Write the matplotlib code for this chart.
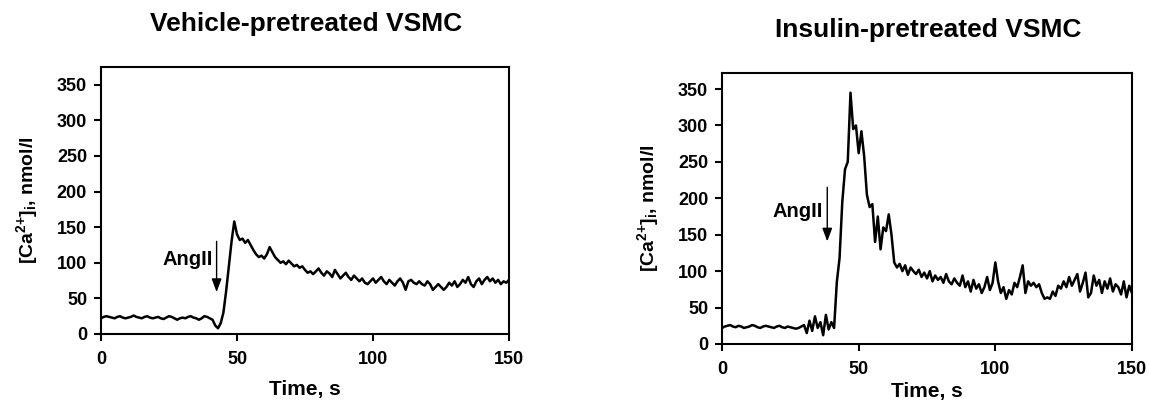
import matplotlib
matplotlib.use("Agg")
import matplotlib.pyplot as plt
import numpy as np

plt.rcParams['font.family'] = ['Liberation Sans', 'DejaVu Sans']
plt.rcParams['font.weight'] = 'bold'
plt.rcParams['mathtext.fontset'] = 'custom'
plt.rcParams['mathtext.rm'] = 'Liberation Sans:bold'
plt.rcParams['mathtext.bf'] = 'Liberation Sans:bold'
plt.rcParams['mathtext.it'] = 'Liberation Sans:bold'

# time axis (s), one sample per second
time_s = np.arange(0, 151)

vehicle = [
    22, 24, 25, 24, 23, 22, 24, 25, 23, 22, 23, 24, 26, 24, 23, 22, 24, 25, 23, 22,
    23, 24, 22, 21, 23, 25, 24, 22, 20, 22, 23, 22, 24, 25, 23, 22, 20, 22, 25, 24,
    22, 20, 12, 8, 15, 30, 60, 95, 130, 158, 140, 132, 134, 128, 132, 125, 118, 112, 108, 110,
    106, 112, 122, 115, 108, 104, 100, 102, 98, 103, 99, 95, 97, 93, 95, 90, 86, 88, 84, 88,
    92, 86, 82, 88, 85, 80, 90, 84, 78, 82, 86, 80, 76, 82, 78, 74, 78, 72, 70, 74,
    78, 72, 76, 80, 74, 70, 76, 72, 68, 74, 78, 72, 62, 74, 76, 72, 70, 74, 70, 68,
    74, 70, 62, 66, 70, 66, 62, 66, 72, 68, 74, 66, 70, 76, 72, 80, 70, 66, 74, 78,
    70, 76, 80, 74, 78, 72, 76, 70, 74, 72, 76,
]

insulin = [
    22, 24, 25, 26, 24, 23, 25, 24, 22, 23, 24, 26, 25, 23, 22, 24, 25, 24, 23, 22,
    24, 25, 23, 22, 24, 23, 22, 21, 22, 24, 26, 15, 32, 18, 38, 22, 30, 12, 40, 20,
    30, 22, 85, 118, 195, 240, 250, 345, 295, 300, 262, 292, 258, 205, 188, 192, 140, 175, 130, 160,
    155, 178, 150, 112, 105, 110, 100, 108, 95, 105, 100, 96, 102, 92, 98, 90, 100, 86, 94, 88,
    92, 84, 96, 86, 82, 90, 84, 80, 94, 78, 86, 72, 88, 76, 82, 70, 78, 92, 74, 84,
    112, 86, 70, 78, 62, 74, 68, 84, 78, 92, 108, 70, 86, 80, 84, 78, 82, 70, 62, 64,
    62, 72, 66, 80, 76, 86, 78, 92, 80, 88, 96, 72, 84, 98, 64, 70, 94, 80, 88, 70,
    86, 76, 90, 72, 82, 78, 68, 86, 64, 80, 70,
]

titles = ["Vehicle-pretreated VSMC", "Insulin-pretreated VSMC"]
arrow_time = [42.5, 38.5]
arrow_top = [134, 219]
arrow_tip = [55, 137]
label_val = [104, 182]

fig = plt.figure(figsize=(11.49, 4.07), dpi=100)
ax_left = fig.add_axes([0.0879, 0.1794, 0.3551, 0.656])
ax_right = fig.add_axes([0.6284, 0.1548, 0.3568, 0.6658])
ylims = [375, 372]
xlabel_pad = [9, 3]

for i, (ax, series) in enumerate(zip([ax_left, ax_right], [vehicle, insulin])):
    ax.plot(time_s, series, color='black', lw=1.8)
    ax.set_xlim(0, 150)
    ax.set_ylim(0, ylims[i])
    ax.set_xticks([0, 50, 100, 150])
    ax.set_yticks(range(0, 351, 50))
    ax.tick_params(direction='out', length=5, width=1.5, labelsize=13, pad=5)
    ax.tick_params(axis='x', pad=7)
    for lab in ax.get_xticklabels() + ax.get_yticklabels():
        lab.set_fontweight('bold')
    for sp in ax.spines.values():
        sp.set_linewidth(1.5)
    ax.set_xlabel("Time, s", fontsize=15, fontweight='bold', labelpad=xlabel_pad[i])
    ax.set_ylabel(r"[Ca$^{\mathbf{2{+}}}$]$_{\mathbf{i}}$, nmol/l", fontsize=14,
                  fontweight='bold', labelpad=12)
    ax.annotate("", xy=(arrow_time[i], arrow_tip[i]), xytext=(arrow_time[i], arrow_top[i]),
                arrowprops=dict(arrowstyle='-|>,head_length=0.8,head_width=0.3',
                                color='black', lw=1.0))
    ax.text(arrow_time[i] - 1.5, label_val[i], "AngII", ha='right', va='center',
            fontsize=14.5, fontweight='bold')

fig.text(0.266, 1 - 24 / 407, titles[0], ha='center', va='center', fontsize=19, fontweight='bold')
fig.text(0.808, 1 - 30 / 407, titles[1], ha='center', va='center', fontsize=19, fontweight='bold')

fig.savefig("out.png", dpi=100)
